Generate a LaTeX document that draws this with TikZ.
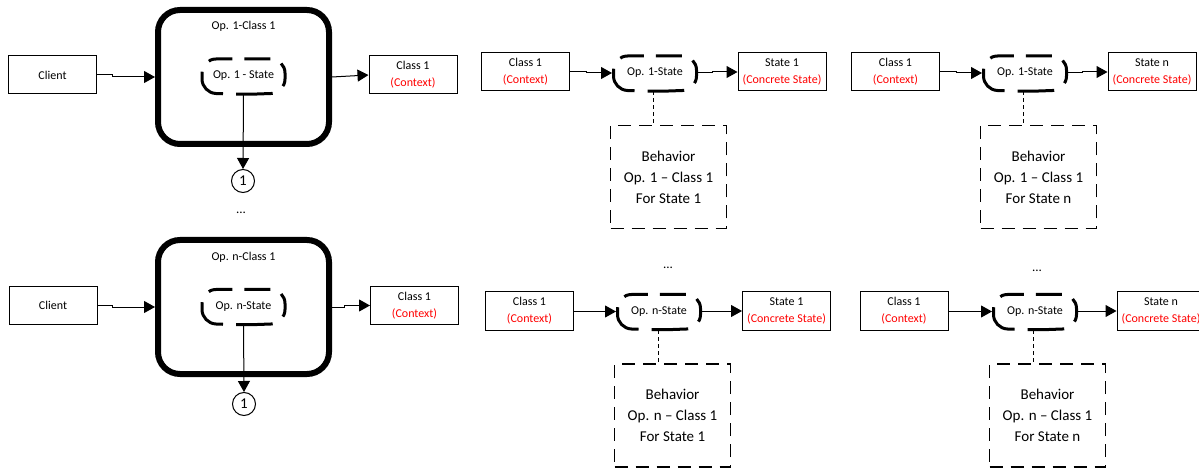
\documentclass[tikz,border=0pt]{standalone}
\usepackage{fontspec}
\setmainfont{Carlito}
\usetikzlibrary{arrows.meta}
% dashed, rounded outline around a state node, traced from the middle of its bottom edge
\newcommand\stateoutline[1]{%
  \draw[stateline] (#1.south)
    -- ([shift={(1.5pt,1.5pt)}]#1.south west)
    -- ([shift={(1.5pt,-1.5pt)}]#1.north west)
    -- ([shift={(-1.5pt,-1.5pt)}]#1.north east)
    -- ([shift={(-1.5pt,1.5pt)}]#1.south east)
    -- cycle;}
\begin{document}
\begin{tikzpicture}[x=1pt,y=-1pt,
  every node/.style={font=\fontsize{12}{17}\selectfont, inner sep=0pt, align=center},
  plainbox/.style={draw, line width=1pt, minimum width=88pt, minimum height=38pt},
  opframe/.style={draw, line width=6pt, rounded corners=22pt, minimum width=171pt, minimum height=134pt},
  opstate/.style={minimum width=83pt, minimum height=34pt, outer sep=1.5pt},
  stateline/.style={line width=3pt, rounded corners=14pt,
    dash pattern=on 0pt off 6.5pt on 36.5pt off 13pt on 24pt off 12pt on 26pt off 12pt on 24pt off 13pt on 36.5pt off 6.5pt},
  behbox/.style={draw, line width=1.5pt, dash pattern=on 13pt off 8pt, minimum width=116pt, minimum height=103pt, font=\fontsize{15}{21}\selectfont},
  refcirc/.style={draw, circle, line width=1pt, minimum size=23pt, font=\fontsize{15}{15}\selectfont},
  flow/.style={line width=1pt, -{Triangle[length=11pt,width=12pt]}},
  link/.style={line width=0.8pt, dash pattern=on 4pt off 3pt},
  dots/.style={font=\fontsize{13}{13}\selectfont}
  ]
\useasboundingbox (0,0) rectangle (1199,470);

% ---------- left column: operation 1 ----------
\node[plainbox] (client1) at (52.5,75) {Client};
\node[opframe]  (op1box)  at (243.5,77) {};
\node (op1title) at (243.5,26) {Op. 1-Class 1};
\node[opstate]  (op1state) at (243.5,76) {Op. 1 - State};
\stateoutline{op1state}
\node[plainbox] (ctx1) at (413,75) {Class 1\\\textcolor{red}{(Context)}};
\node[refcirc]  (circ1) at (243,181) {1};
\node[dots] (dotsL) at (241,213) {...};

\draw[flow] (client1.east) -- ++(15,0) |- (op1box.west);
\draw[flow] (op1box.east) -- (ctx1.west);
\draw[flow] (op1state.south) -- (circ1.north);

% ---------- left column: operation n ----------
\node[plainbox] (clientn) at (53,305.5) {Client};
\node[opframe]  (opnbox)  at (243.5,307) {};
\node (opntitle) at (243.5,257) {Op. n-Class 1};
\node[opstate]  (opnstate) at (243.5,306.5) {Op. n-State};
\stateoutline{opnstate}
\node[plainbox] (ctxn) at (414.5,305.5) {Class 1\\\textcolor{red}{(Context)}};
\node[refcirc]  (circn) at (244,404) {1};

\draw[flow] (clientn.east) -- ++(15,0) |- (opnbox.west);
\draw[flow] (opnbox.east) -- ++(12,0) |- (ctxn.west);
\draw[flow] (opnstate.south) -- (circn.north);

% ---------- middle column: op 1 / state 1 ----------
\node[plainbox] (m1ctx) at (525.5,72) {Class 1\\\textcolor{red}{(Context)}};
\node[opstate]  (m1state) at (655,73) {Op. 1-State};
\stateoutline{m1state}
\node[plainbox] (m1conc) at (782,72) {State 1\\\textcolor{red}{(Concrete State)}};
\node[behbox]   (m1beh) at (668.5,177) {Behavior\\Op. 1 -- Class 1\\For State 1};
\draw[flow] (m1ctx.east) -- ++(16,0) |- (m1state.west);
\draw[flow] (m1state.east) -- ++(14,0) |- (m1conc.west);
\draw[link] ([xshift=-2pt]m1state.south) -- ([xshift=-2pt]m1state.south |- m1beh.north);

% ---------- right column: op 1 / state n ----------
\node[plainbox] (r1ctx) at (895.5,72) {Class 1\\\textcolor{red}{(Context)}};
\node[opstate]  (r1state) at (1025,73) {Op. 1-State};
\stateoutline{r1state}
\node[plainbox] (r1conc) at (1152,72) {State n\\\textcolor{red}{(Concrete State)}};
\node[behbox]   (r1beh) at (1038.5,177) {Behavior\\Op. 1 -- Class 1\\For State n};
\draw[flow] (r1ctx.east) -- ++(16,0) |- (r1state.west);
\draw[flow] (r1state.east) -- ++(14,0) |- (r1conc.west);
\draw[link] ([xshift=-2pt]r1state.south) -- ([xshift=-2pt]r1state.south |- r1beh.north);

% ---------- middle column: op n / state 1 ----------
\node[dots] (dotsM) at (668,268) {...};
\node[plainbox] (mnctx) at (529.5,311) {Class 1\\\textcolor{red}{(Context)}};
\node[opstate]  (mnstate) at (659,311.5) {Op. n-State};
\stateoutline{mnstate}
\node[plainbox] (mnconc) at (786.5,311) {State 1\\\textcolor{red}{(Concrete State)}};
\node[behbox]   (mnbeh) at (672.5,415.5) {Behavior\\Op. n -- Class 1\\For State 1};
\draw[flow] (mnctx.east) -- ++(16,0) |- (mnstate.west);
\draw[flow] (mnstate.east) -- ++(14,0) |- (mnconc.west);
\draw[link] ([xshift=-1pt]mnstate.south) -- ([xshift=-1pt]mnstate.south |- mnbeh.north);

% ---------- right column: op n / state n ----------
\node[dots] (dotsR) at (1037,271) {...};
\node[plainbox] (rnctx) at (904,311) {Class 1\\\textcolor{red}{(Context)}};
\node[opstate]  (rnstate) at (1035,311.5) {Op. n-State};
\stateoutline{rnstate}
\node[plainbox] (rnconc) at (1161,311) {State n\\\textcolor{red}{(Concrete State)}};
\node[behbox]   (rnbeh) at (1047.5,415.5) {Behavior\\Op. n -- Class 1\\For State n};
\draw[flow] (rnctx.east) -- ++(16,0) |- (rnstate.west);
\draw[flow] (rnstate.east) -- ++(14,0) |- (rnconc.west);
\draw[link] ([xshift=-2pt]rnstate.south) -- ([xshift=-2pt]rnstate.south |- rnbeh.north);
\end{tikzpicture}
\end{document}
